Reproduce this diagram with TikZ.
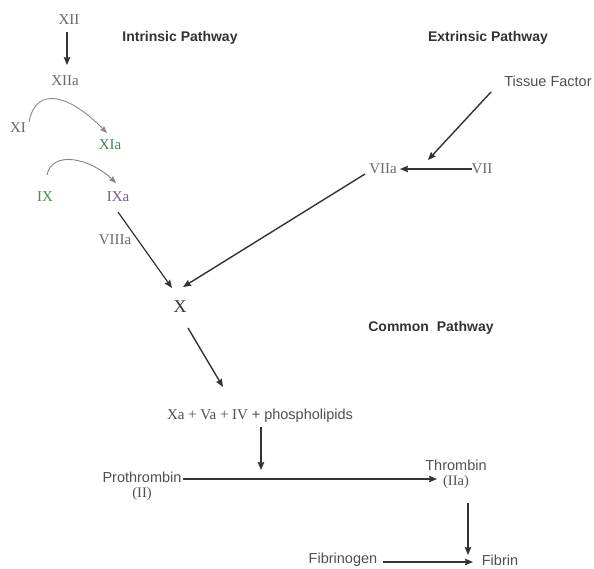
\documentclass[tikz,border=0pt]{standalone}
\usepackage{fontspec}
\setmainfont{Liberation Serif}
\setsansfont{Liberation Sans}
\usetikzlibrary{arrows.meta}
\definecolor{txt}{HTML}{505050}
\definecolor{rom}{HTML}{6A6A6A}
\definecolor{head}{HTML}{333333}
\definecolor{ln}{HTML}{333333}
\definecolor{grn}{HTML}{4E8A55}
\definecolor{prp}{HTML}{7A5C8C}
\definecolor{crv}{HTML}{8A8A8A}
\begin{document}
\begin{tikzpicture}[x=1pt,y=-1pt,
  lab/.style={inner sep=0pt,font=\sffamily\fontsize{14.5}{16}\selectfont,text=txt},
  romn/.style={inner sep=0pt,font=\rmfamily\fontsize{15}{17}\selectfont,text=rom},
  hd/.style={inner sep=0pt,font=\sffamily\bfseries\fontsize{14}{16}\selectfont,text=head},
  arr/.style={draw=ln,line width=1.4pt,-{Stealth[length=8pt,width=6.5pt,inset=1pt]}},
  crvarr/.style={draw=crv,line width=0.9pt,-{Stealth[length=7pt,width=5.5pt,inset=1pt]}}]
\useasboundingbox (0,0) rectangle (594,568);
\fill[white] (0,0) rectangle (594,568);
% nodes
\node[romn] (XII) at (69,20) {XII};
\node[romn] (XIIa) at (65,81) {XIIa};
\node[hd] (intr) at (180,38) {Intrinsic Pathway};
\node[hd] (extr) at (488,38) {Extrinsic Pathway};
\node[romn] (XI) at (18,128) {XI};
\node[romn,text=grn!70!rom] (XIa) at (110,145) {XIa};
\node[romn,text=grn] (IX) at (45,197) {IX};
\node[romn,text=prp] (IXa) at (118,197) {IXa};
\node[romn] (VIIIa) at (115,240) {VIIIa};
\node[romn,font=\rmfamily\fontsize{18}{20}\selectfont,text=head] (X) at (180,307) {X};
\node[lab] (TF) at (548,81) {Tissue Factor};
\node[romn] (VIIa) at (383,169) {VIIa};
\node[romn] (VII) at (482,169) {VII};
\node[hd] (comm) at (431,328) {Common\ \ Pathway};
\node[inner sep=0pt,text=txt] (XaV) at (260,416) {\rmfamily\fontsize{15}{17}\selectfont Xa + Va + IV \sffamily\fontsize{14.5}{16}\selectfont + phospholipids};
\node[lab,align=center] (Pro) at (142,486) {Prothrombin\\[-1pt]\rmfamily(II)};
\node[lab,align=center] (Thr) at (456,474) {Thrombin\\[-1pt]\rmfamily(IIa)};
\node[lab] (Fbg) at (343,560) {Fibrinogen};
\node[lab] (Fbn) at (500,560) {Fibrin};
\coordinate (mid) at (261,470);
% connectors
\draw[arr,line width=1.1pt] ([shift={(-2,12)}]XII.center) -- ([shift={(2,-16)}]XIIa.center);
\draw[crvarr] ([shift={(11,-6)}]XI.center) .. controls (36,85) and (70,95) .. ([shift={(-3,-12)}]XIa.center);
\draw[crvarr,draw=crv!80!prp] ([shift={(2,-22)}]IX.center) .. controls (52,150) and (90,158) .. ([shift={(-2,-14)}]IXa.center);
\draw[arr,line width=1.2pt] ([shift={(0,15)}]IXa.center) -- ([shift={(-8,-19)}]X.center);
\draw[arr] ([shift={(-18,5)}]VIIa.center) -- ([shift={(3,-20)}]X.center);
\draw[arr] ([shift={(8,21)}]X.center) -- ([shift={(-37,-29)}]XaV.center);
\draw[arr] ([shift={(-57,11)}]TF.center) -- ([shift={(45,-9)}]VIIa.center);
\draw[arr] ([shift={(-10,0)}]VII.center) -- ([shift={(17,0)}]VIIa.center);
\draw[arr] ([shift={(1,11)}]XaV.center) -- (mid);
\draw[arr] ([shift={(41,-7)}]Pro.center) -- ([shift={(-19,5)}]Thr.center);
\draw[arr] ([shift={(12,29)}]Thr.center) -- ([shift={(-32,-5)}]Fbn.center);
\draw[arr] ([shift={(40,2)}]Fbg.center) -- ([shift={(-27,2)}]Fbn.center);
\end{tikzpicture}
\end{document}
